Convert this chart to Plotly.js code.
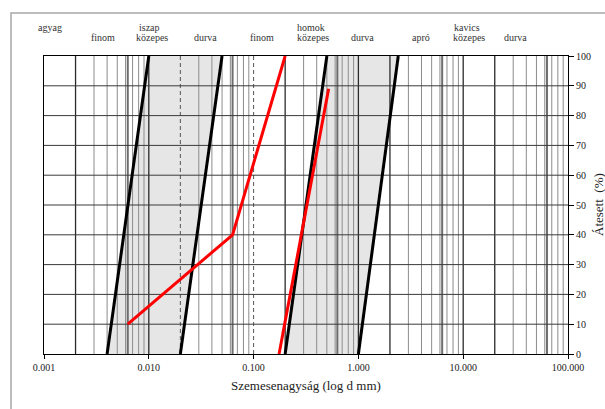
<!DOCTYPE html>
<html>
<head>
<meta charset="utf-8">
<script src="https://cdn.plot.ly/plotly-3.0.1.min.js"></script>
<style>
  html, body { margin: 0; padding: 0; background: #fff; }
  #chart { width: 605px; height: 409px; }
</style>
</head>
<body>
<div id="chart"></div>
<script>
// Grain size distribution chart (log scale of grain diameter, mm)

// Axis ticks
const xTickVals = [0.001, 0.01, 0.1, 1, 10, 100];
const xTickText = ['0.001', '0.010', '0.100', '1.000', '10.000', '100.000'];
const yTickVals = [0, 10, 20, 30, 40, 50, 60, 70, 80, 90, 100];

// Vertical grid: decades and 2..9 subdivisions
const decades = [0.001, 0.01, 0.1, 1, 10];
const subSteps = [2, 3, 4, 5, 6, 7, 8, 9];
// Fraction boundaries
const boundaryLines = [0.002, 0.01, 0.2, 1, 2, 10, 20];
const fractionLines = [0.0063, 0.063, 0.63, 6.3, 63];
const dashedLines = [0.02, 0.1];

// Envelope lines (diameter at 0 % and 100 % passing)
const envPct = [0, 100];
const envA = [0.004, 0.01];
const envB = [0.02, 0.05];
const envC = [0.2, 0.5];
const envD = [1.0, 2.4];

// Measured curves
const curve1D = [0.0063, 0.063, 0.2];
const curve1P = [10, 40, 100];
const curve2D = [0.175, 0.52];
const curve2P = [0, 89];

// Fraction names above the plot
const fracNames = ['agyag', 'finom', 'iszap', 'közepes', 'durva', 'finom', 'homok', 'közepes', 'durva', 'apró', 'kavics', 'közepes', 'durva'];
const fracX = [50, 103, 149, 152, 205, 262, 311, 313, 362, 421, 467, 469, 515];
const fracRow = [0, 1, 0, 1, 1, 1, 0, 1, 1, 1, 0, 1, 1];

const L = 44, R = 568, T = 56, B = 354;
const W = 605, H = 409;

function vLines(xs) {
  const x = [], y = [];
  xs.forEach(v => { x.push(v, v, null); y.push(0, 100, null); });
  return { x, y };
}
function hLines(ys) {
  const x = [], y = [];
  ys.forEach(v => { x.push(0.001, 100, null); y.push(v, v, null); });
  return { x, y };
}
function band(left, right) {
  return {
    x: [left[0], right[0], right[1], left[1], left[0]],
    y: [envPct[0], envPct[0], envPct[1], envPct[1], envPct[0]]
  };
}

const minorVals = [];
decades.forEach(d => subSteps.forEach(k => {
  const v = +(d * k).toPrecision(3);
  if (!dashedLines.includes(v) && !boundaryLines.includes(v)) minorVals.push(v);
}));

const traces = [];
const bandStyle = { type: 'scatter', mode: 'lines', fill: 'toself', fillcolor: '#e6e6e6', line: { width: 0 }, hoverinfo: 'skip', showlegend: false };
traces.push(Object.assign({}, bandStyle, band(envA, envB)));
traces.push(Object.assign({}, bandStyle, band(envC, envD)));

const minor = vLines(minorVals);
traces.push({ type: 'scatter', mode: 'lines', x: minor.x, y: minor.y, line: { color: '#8c8c8c', width: 1 }, hoverinfo: 'skip', showlegend: false });
const frac = vLines(fractionLines);
traces.push({ type: 'scatter', mode: 'lines', x: frac.x, y: frac.y, line: { color: '#6e6e6e', width: 2 }, hoverinfo: 'skip', showlegend: false });
const bnd = vLines(boundaryLines);
traces.push({ type: 'scatter', mode: 'lines', x: bnd.x, y: bnd.y, line: { color: '#2a2a2a', width: 1.3 }, hoverinfo: 'skip', showlegend: false });
const dsh = vLines(dashedLines);
traces.push({ type: 'scatter', mode: 'lines', x: dsh.x, y: dsh.y, line: { color: '#555', width: 1, dash: '4px,3px' }, hoverinfo: 'skip', showlegend: false });
const hor = hLines(yTickVals.slice(1, -1));
traces.push({ type: 'scatter', mode: 'lines', x: hor.x, y: hor.y, line: { color: '#3a3a3a', width: 1 }, hoverinfo: 'skip', showlegend: false });

[envA, envB, envC, envD].forEach(e => {
  traces.push({ type: 'scatter', mode: 'lines', x: e, y: envPct, line: { color: '#000', width: 3 }, hoverinfo: 'skip', showlegend: false });
});

traces.push({ type: 'scatter', mode: 'lines', x: curve1D, y: curve1P, line: { color: '#ff0000', width: 3 }, hoverinfo: 'skip', showlegend: false });
traces.push({ type: 'scatter', mode: 'lines', x: curve2D, y: curve2P, line: { color: '#ff0000', width: 3 }, hoverinfo: 'skip', showlegend: false });

const serif = 'Liberation Serif, Times New Roman, serif';
const annotations = fracNames.map((t, i) => ({
  text: t, xref: 'paper', yref: 'paper',
  x: (fracX[i] - L) / (R - L),
  y: (B - (fracRow[i] ? 38 : 28)) / (B - T),
  xanchor: 'center', yanchor: 'middle', showarrow: false,
  font: { family: serif, size: 10, color: '#333' }
}));
annotations.push({
  text: 'Átesett  (%)', xref: 'paper', yref: 'paper',
  x: (598 - L) / (R - L), y: 0.5, textangle: -90,
  xanchor: 'center', yanchor: 'middle', showarrow: false,
  font: { family: serif, size: 13, color: '#222' }
});

const layout = {
  width: W, height: H,
  margin: { l: L, r: W - R, t: T, b: H - B, pad: 0 },
  paper_bgcolor: '#fff', plot_bgcolor: '#fff',
  showlegend: false,
  font: { family: serif, color: '#222' },
  xaxis: {
    type: 'log', range: [-3, 2],
    tickvals: xTickVals, ticktext: xTickText,
    ticks: 'outside', ticklen: 4, tickcolor: '#000',
    showgrid: false, zeroline: false,
    showline: true, mirror: true, linecolor: '#000', linewidth: 1,
    tickfont: { family: serif, size: 10, color: '#222' },
    title: { text: 'Szemesenagyság (log d mm)', font: { family: serif, size: 13, color: '#222' }, standoff: 8 },
    automargin: false, fixedrange: true
  },
  yaxis: {
    range: [0, 100], side: 'right',
    tickvals: yTickVals,
    ticks: 'outside', ticklen: 5, tickcolor: '#000',
    showgrid: false, zeroline: false,
    showline: true, mirror: true, linecolor: '#000', linewidth: 1,
    tickfont: { family: serif, size: 10, color: '#222' },
    automargin: false, fixedrange: true
  },
  shapes: [{
    type: 'rect', xref: 'paper', yref: 'paper',
    x0: (11 - L) / (R - L), x1: (640 - L) / (R - L),
    y0: (B - 440) / (B - T), y1: (B - 13) / (B - T),
    line: { color: '#a8a8a8', width: 1.5 }, fillcolor: 'rgba(0,0,0,0)', layer: 'below'
  }],
  annotations
};

Plotly.newPlot('chart', traces, layout, { staticPlot: true, displayModeBar: false });
</script>
</body>
</html>
